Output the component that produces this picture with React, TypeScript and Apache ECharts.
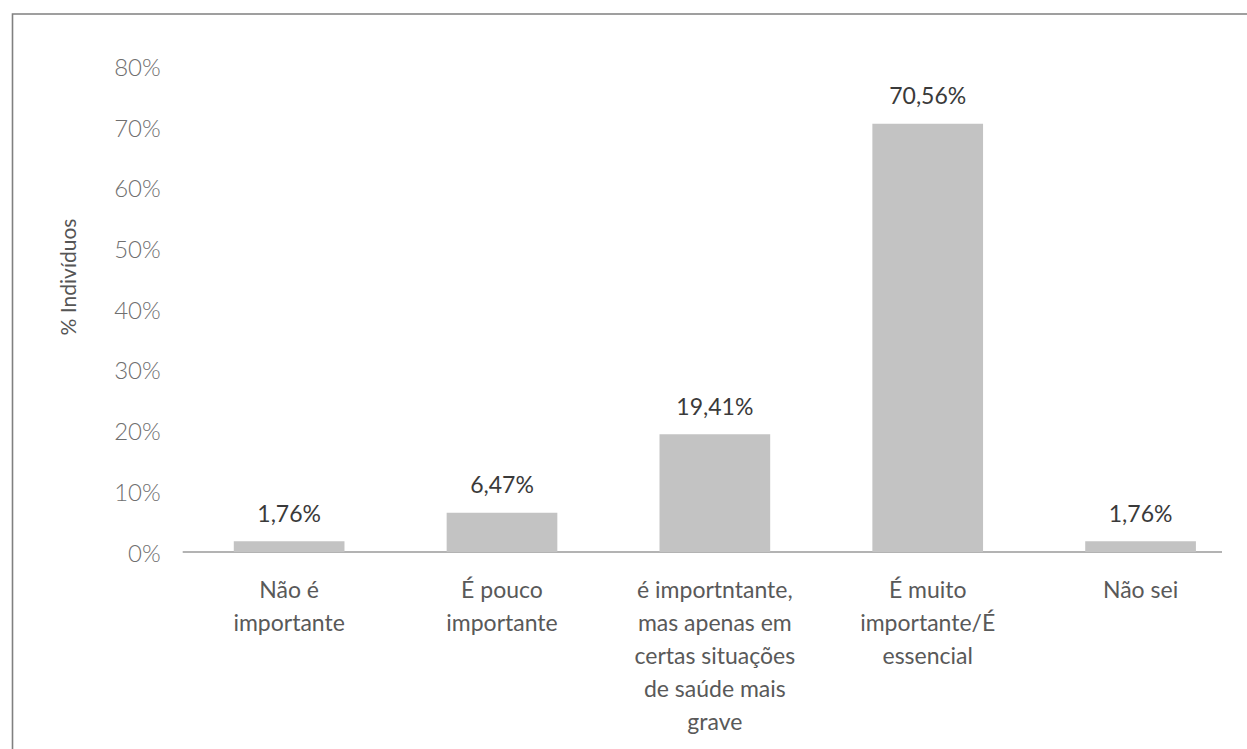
import React, { useEffect, useRef } from "react";
import * as echarts from "echarts";

const categories = [
  "Não é\nimportante",
  "É pouco\nimportante",
  "é importntante,\nmas apenas em\ncertas situações\nde saúde mais\ngrave",
  "É muito\nimportante/É\nessencial",
  "Não sei",
];
const values = [1.76, 6.47, 19.41, 70.56, 1.76];
const yAxisTitle = "% Indivíduos";

export default function App() {
  const ref = useRef<HTMLDivElement>(null);
  useEffect(() => {
    if (!ref.current) return;
    const chart = echarts.init(ref.current, null, { renderer: "svg" });
    const font = "Lato, 'Open Sans', sans-serif";
    chart.setOption({
      animation: false,
      textStyle: { fontFamily: font },
      grid: { left: 182.7, top: 66.4, width: 1067.5, height: 485.6, containLabel: false },
      xAxis: {
        type: "category",
        data: categories,
        axisLine: { show: false },
        axisTick: { show: false },
        axisLabel: {
          interval: 0,
          margin: 20,
          fontSize: 23,
          lineHeight: 33,
          color: "#595959",
          fontFamily: font,
        },
      },
      yAxis: {
        type: "value",
        min: 0,
        max: 80,
        interval: 10,
        axisLine: { show: false },
        axisTick: { show: false },
        splitLine: { show: false },
        axisLabel: {
          formatter: "{value}%",
          margin: 22,
          fontSize: 24,
          fontWeight: 300,
          color: "#6f6f6f",
          fontFamily: font,
          padding: [7, 0, 0, 0],
        },
      },
      series: [
        {
          type: "bar",
          data: values,
          barWidth: "52%",
          itemStyle: { color: "#c3c3c3" },
          label: {
            show: true,
            position: "top",
            distance: 17,
            fontSize: 23,
            color: "#3a3a3a",
            fontFamily: font,
            formatter: (p: any) => p.value.toFixed(2).replace(".", ",") + "%",
          },
        },
      ],
      graphic: [
        {
          type: "rect",
          shape: { x: 12.5, y: 14, width: 1400, height: 900 },
          style: { fill: "none", stroke: "#808080", lineWidth: 1.6 },
          silent: true,
        },
        {
          type: "line",
          shape: { x1: 182.7, y1: 552, x2: 1222, y2: 552 },
          style: { stroke: "#b3b3b3", lineWidth: 2 },
          silent: true,
        },
        {
          type: "text",
          x: 67,
          y: 277,
          rotation: Math.PI / 2,
          style: {
            text: yAxisTitle,
            fontSize: 21,
            fill: "#555555",
            fontFamily: font,
            align: "center",
            verticalAlign: "middle",
          },
          silent: true,
        },
      ],
    });
    return () => chart.dispose();
  }, []);
  return (
    <div
      ref={ref}
      style={{ position: "absolute", left: 0, top: 0, width: 1247, height: 749, background: "#fff" }}
    />
  );
}
